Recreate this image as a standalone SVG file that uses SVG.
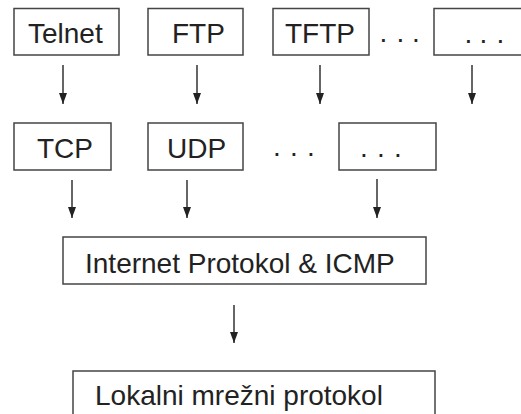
<svg xmlns="http://www.w3.org/2000/svg" width="521" height="414" viewBox="0 0 521 414">
<defs>
<marker id="ah" viewBox="0 0 11 8" refX="11" refY="4" markerWidth="11" markerHeight="8" markerUnits="userSpaceOnUse" orient="auto">
<path d="M0,0 L11,4 L0,8 Z" fill="#222"/>
</marker>
<style>
.b{fill:#fff;stroke:#444;stroke-width:1.5}
.t{font-family:"Liberation Sans",Arial,sans-serif;font-size:28px;fill:#222}
.c{stroke:#333;stroke-width:1.5;fill:none}
</style>
</defs>
<rect width="521" height="414" fill="#fff"/>
<g id="telnet"><rect class="b" x="14" y="8.5" width="105" height="46.5"/><text class="t" x="28" y="43">Telnet</text></g>
<g id="ftp"><rect class="b" x="148" y="8.5" width="95" height="46.5"/><text class="t" x="172" y="43">FTP</text></g>
<g id="tftp"><rect class="b" x="273" y="8.5" width="96" height="46.5"/><text class="t" x="285" y="43">TFTP</text></g>
<g id="dots1"><text class="t" x="379.5 396.5 412" y="42">...</text></g>
<g id="app-more"><rect class="b" x="434" y="8.5" width="100" height="46.5"/><text class="t" x="464.5 479.5 496.5" y="43">...</text></g>
<g id="tcp"><rect class="b" x="14" y="123" width="97" height="47"/><text class="t" x="37" y="158">TCP</text></g>
<g id="udp"><rect class="b" x="148" y="123" width="95" height="47"/><text class="t" x="167" y="158">UDP</text></g>
<g id="dots2"><text class="t" x="273 290 307" y="156">...</text></g>
<g id="trans-more"><rect class="b" x="339" y="123" width="97" height="47"/><text class="t" x="360 377 394" y="157">...</text></g>
<g id="ip"><rect class="b" x="63" y="237" width="363" height="47"/><text class="t" x="85" y="273">Internet Protokol &amp; ICMP</text></g>
<g id="lokal"><rect class="b" x="73" y="371" width="362" height="60"/><text class="t" x="95" y="405">Lokalni mrežni protokol</text></g>
<g id="connectors">
<line class="c" x1="63" y1="65" x2="63" y2="104" marker-end="url(#ah)"/>
<line class="c" x1="197" y1="65" x2="197" y2="104" marker-end="url(#ah)"/>
<line class="c" x1="320" y1="65" x2="320" y2="104" marker-end="url(#ah)"/>
<line class="c" x1="472" y1="65" x2="472" y2="104" marker-end="url(#ah)"/>
<line class="c" x1="72" y1="180" x2="72" y2="218" marker-end="url(#ah)"/>
<line class="c" x1="187" y1="180" x2="187" y2="218" marker-end="url(#ah)"/>
<line class="c" x1="377" y1="179" x2="377" y2="218" marker-end="url(#ah)"/>
<line class="c" x1="234" y1="305" x2="234" y2="343" marker-end="url(#ah)"/>
</g>
</svg>
